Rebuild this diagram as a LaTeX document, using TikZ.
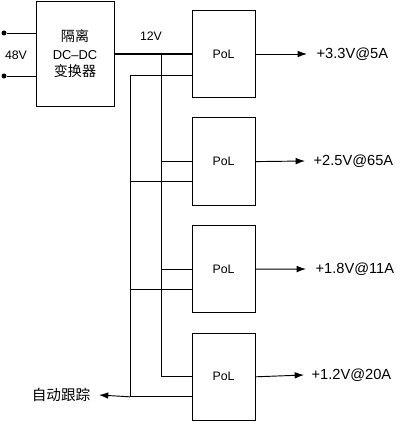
\documentclass[tikz,border=0pt]{standalone}
\usepackage{fontspec}
\setmainfont{Liberation Sans}
\newfontfamily\cjk{Noto Sans CJK SC}
\usetikzlibrary{positioning,arrows.meta,calc}

\begin{document}
\begin{tikzpicture}[
  x=0.3mm, y=-0.3mm,
  node distance=5.8mm,
  line width=0.8pt,
  conv/.style={draw, minimum width=23.4mm, minimum height=31.5mm, align=center,
    font=\fontsize{11}{15}\selectfont},
  pol/.style={draw, minimum width=18.9mm, minimum height=26.2mm, font=\fontsize{10.5}{12}\selectfont},
  outlabel/.style={right, inner sep=1pt, font=\fontsize{12.5}{14}\selectfont},
  arrow/.style={-{Latex[length=2.8mm,width=2mm]}},
  pin/.style={circle, fill, inner sep=0pt, minimum size=1.5mm}
]
\useasboundingbox (0,0) rectangle (400,421);

% converter and inputs
\node[conv] (dcdc) at (75,54) {{\cjk\fontsize{12}{15}\selectfont 隔离}\\DC--DC\\{\cjk\fontsize{12}{15}\selectfont 变换器}};
\node[pin] (in1) at (4,33) {};
\node[pin] (in2) at (4,76) {};
\draw (in1) -- (in1 -| dcdc.west);
\draw (in2) -- (in2 -| dcdc.west);
\node[font=\fontsize{10.5}{12}\selectfont] (vin) at (16,55) {48V};

% PoL modules
\node[pol] (pol1) at (223.5,54) {PoL};
\node[pol, below=of pol1] (pol2) {PoL};
\node[pol, below=of pol2] (pol3) {PoL};
\node[pol, below=of pol3] (pol4) {PoL};

% 12V bus
\coordinate (vbus) at (161,0);
\draw[line width=1pt] (dcdc.east) -- (pol1.west);
\node[font=\fontsize{10.5}{12}\selectfont] (vbl) at (151,36) {12V};
\draw (vbus |- pol1.west) -- (vbus |- pol4.west);
\draw (vbus |- pol2.west) -- (pol2.west);
\draw (vbus |- pol3.west) -- (pol3.west);
\draw (vbus |- pol4.west) -- (pol4.west);

% tracking bus
\coordinate (tbus) at (130,0);
\coordinate (tr1) at ($(pol1.west)+(0,21)$);
\coordinate (tr2) at ($(pol2.west)+(0,20)$);
\coordinate (tr3) at ($(pol3.west)+(0,20)$);
\coordinate (tr4) at ($(pol4.west)+(0,20)$);
\draw (tbus |- tr1) -- (tbus |- tr4);
\draw (tbus |- tr1) -- (tr1);
\draw (tbus |- tr2) -- (tr2);
\draw (tbus |- tr3) -- (tr3);
\draw (tbus |- tr4) -- (tr4);
\node[left, inner sep=1pt, font=\cjk\fontsize{12.5}{14}\selectfont] (track) at (92,395) {自动跟踪};
\draw[arrow] (tbus |- tr4) -- (track.east -| 99,0);

% outputs
\node[outlabel] (out1) at (315,54) {+3.3V@5A};
\node[outlabel] (out2) at (312,161) {+2.5V@65A};
\node[outlabel] (out3) at (314,269) {+1.8V@11A};
\node[outlabel] (out4) at (310,375) {+1.2V@20A};
\draw[arrow] (pol1.east) -- (out1.west -| 307,0);
\draw[arrow] (pol2.east) -- (out2.west -| 305,0);
\draw[arrow] (pol3.east) -- (out3.west -| 306,0);
\draw[arrow] (pol4.east) -- (out4.west -| 304,0);
\end{tikzpicture}
\end{document}
